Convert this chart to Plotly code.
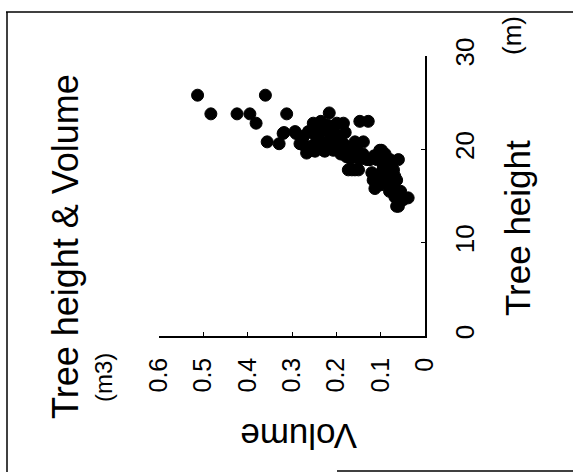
import plotly.graph_objects as go

# Tree measurements: stem volume (m3) and tree height (m)
volume = [
    0.513, 0.360, 0.483, 0.424, 0.395, 0.381, 0.312, 0.356, 0.329, 0.318, 0.291,
    0.282, 0.263, 0.252, 0.248, 0.226, 0.237, 0.216, 0.214, 0.199, 0.184, 0.192,
    0.177, 0.173, 0.158, 0.158, 0.139, 0.147, 0.128, 0.154, 0.131, 0.098, 0.109,
    0.086, 0.060, 0.071, 0.094, 0.117, 0.113, 0.086, 0.064, 0.068, 0.038, 0.064,
    0.274, 0.252, 0.229, 0.252, 0.229, 0.214, 0.207, 0.184, 0.165, 0.150, 0.154,
    0.147, 0.124, 0.102, 0.094, 0.079, 0.086, 0.068, 0.071, 0.049, 0.060, 0.267,
    0.293, 0.320, 0.240, 0.220, 0.205, 0.195, 0.230, 0.245, 0.260, 0.180, 0.170,
    0.190, 0.200, 0.215, 0.235, 0.275, 0.168, 0.140, 0.120, 0.105, 0.080, 0.075,
    0.100, 0.055, 0.090, 0.115,
]
height = [
    25.8, 25.8, 23.8, 23.8, 23.8, 22.8, 23.8, 20.8, 20.6, 21.8, 21.7,
    20.6, 21.9, 22.8, 19.8, 19.8, 21.0, 23.9, 21.7, 22.8, 22.8, 20.6,
    19.2, 17.8, 17.8, 20.8, 20.8, 23.0, 23.0, 19.2, 18.9, 19.9, 18.9,
    18.9, 18.9, 17.8, 17.8, 16.7, 15.8, 16.7, 16.7, 14.9, 14.8, 13.9,
    21.4, 21.7, 22.1, 19.9, 19.9, 21.0, 19.9, 20.6, 17.8, 17.8, 19.9,
    18.9, 18.9, 19.9, 18.1, 18.9, 17.1, 17.1, 16.0, 14.6, 13.9, 19.6,
    21.9, 21.7, 22.3, 22.6, 22.0, 21.3, 20.5, 20.8, 20.3, 21.8, 20.2,
    19.5, 20.8, 20.3, 23.0, 20.5, 19.0, 19.5, 17.5, 17.3, 15.5, 16.5,
    16.2, 15.5, 19.5, 19.3,
]

volume_ticks = [0, 0.1, 0.2, 0.3, 0.4, 0.5, 0.6]
volume_labels = ["0", "0.1", "0.2", "0.3", "0.4", "0.5", "0.6"]
height_ticks = [0, 10, 20, 30]
height_labels = ["0", "10", "20", "30"]

W, H = 573, 472
L, R, T, B = 159, 425, 56, 336  # plot area in pixels

def px(x):
    return (x - L) / (R - L)

def py(y):
    return (B - y) / (B - T)

FONT = "Liberation Sans, Arial, sans-serif"

fig = go.Figure(
    go.Scatter(
        x=volume,
        y=height,
        mode="markers",
        marker=dict(size=12, color="black", line=dict(color="black", width=1)),
        hoverinfo="skip",
    )
)

fig.update_layout(
    width=W,
    height=H,
    margin=dict(l=L, r=W - R, t=T, b=H - B),
    paper_bgcolor="white",
    plot_bgcolor="white",
    showlegend=False,
    font=dict(family=FONT, color="black"),
    xaxis=dict(
        range=[0.6, 0],
        tickvals=volume_ticks,
        ticktext=volume_labels,
        tickangle=-90,
        tickfont=dict(size=25, family=FONT, color="black"),
        showline=True,
        linecolor="black",
        linewidth=1.5,
        ticks="inside",
        ticklen=4,
        tickcolor="black",
        showgrid=False,
        zeroline=False,
        ticklabelstandoff=10,
    ),
    yaxis=dict(
        range=[0, 30],
        side="right",
        tickvals=height_ticks,
        ticktext=height_labels,
        tickangle=-90,
        tickfont=dict(size=26, family=FONT, color="black"),
        showline=True,
        linecolor="black",
        linewidth=1.5,
        ticks="inside",
        ticklen=4,
        tickcolor="black",
        showgrid=False,
        zeroline=False,
        ticklabelstandoff=16,
    ),
)

def label(text, x, y, size, angle):
    fig.add_annotation(
        text=text, x=px(x), y=py(y), xref="paper", yref="paper",
        showarrow=False, textangle=angle, xanchor="center", yanchor="middle",
        font=dict(size=size, family=FONT, color="black"),
    )

label("Tree height &amp; Volume", 65, 247, 36, -90)
label("(m3)", 103, 378, 24, -90)
label("Volume", 299, 437, 35, 180)
label("Tree height", 517, 228, 35, -90)
label("(m)", 512, 36, 26, -90)

# frame around the figure
frame = [
    (6, 12, 573, 12),
    (7, 12, 7, 472),
    (337, 471, 573, 471),
]
for x0, y0, x1, y1 in frame:
    fig.add_shape(
        type="line", xref="paper", yref="paper",
        x0=px(x0), y0=py(y0), x1=px(x1), y1=py(y1),
        line=dict(color="black", width=1.5),
    )

fig.write_html("out.html")
